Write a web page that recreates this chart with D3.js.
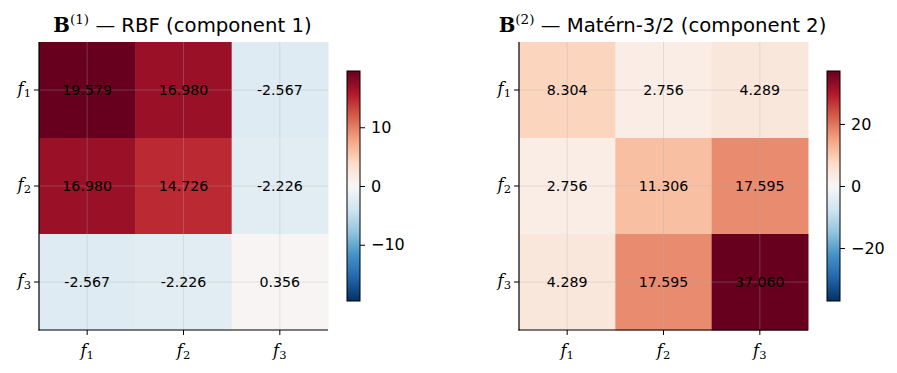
<!DOCTYPE html>
<html><head><meta charset="utf-8">
<script src="https://cdn.jsdelivr.net/npm/d3@7"></script>
<style>body{margin:0;background:#fff}svg{display:block}</style>
</head><body>
<svg id="chart" width="897" height="373"></svg>
<script>
const labels = ["1","2","3"];
const matrixB1 = [[19.579,16.980,-2.567],[16.980,14.726,-2.226],[-2.567,-2.226,0.356]];
const matrixB2 = [[8.304,2.756,4.289],[2.756,11.306,17.595],[4.289,17.595,37.060]];
const titleNames = ["RBF (component 1)","Matérn-3/2 (component 2)"];
const supers = ["(1)","(2)"];
const cbTicks1 = [-10,0,10];
const cbTicks2 = [-20,0,20];

const rdbu = ["#67001f","#b2182b","#d6604d","#f4a582","#fddbc7","#f7f7f7","#d1e5f0","#92c5de","#4393c3","#2166ac","#053061"];
const svg = d3.select("#chart");

const panels = [
  {m: matrixB1, x0: 39, x1: 328, cbx: 347, ticks: cbTicks1, title: titleNames[0], sup: supers[0]},
  {m: matrixB2, x0: 519, x1: 808, cbx: 827, ticks: cbTicks2, title: titleNames[1], sup: supers[1]}
];
const y0 = 42, y1 = 330;
const cbTop = 71, cbBot = 301, cbW = 13;

panels.forEach((p, pi) => {
  const vmax = d3.max(p.m.flat(), d => Math.abs(d));
  const vmin = -vmax;
  const dom = d3.range(11).map(i => vmax - i * (2 * vmax) / 10);
  const color = d3.scaleLinear().domain(dom).range(rdbu).interpolate(d3.interpolateRgb);
  const x = d3.scaleBand().domain(labels).range([p.x0, p.x1]).padding(0);
  const y = d3.scaleBand().domain(labels).range([y0, y1]).padding(0);
  const g = svg.append("g");
  const cells = [];
  p.m.forEach((row, i) => row.forEach((v, j) => cells.push({i, j, v})));
  g.selectAll("rect.cell").data(cells).join("rect")
    .attr("x", d => x(labels[d.j])).attr("y", d => y(labels[d.i]))
    .attr("width", x.bandwidth() + 0.5).attr("height", y.bandwidth() + 0.5)
    .attr("fill", d => color(d.v));
  labels.forEach(l => {
    const cx = x(l) + x.bandwidth() / 2, cy = y(l) + y.bandwidth() / 2;
    g.append("line").attr("x1", cx).attr("x2", cx).attr("y1", y0).attr("y2", y1)
      .attr("stroke", "#b0b0b0").attr("stroke-opacity", 0.3).attr("stroke-width", 1);
    g.append("line").attr("x1", p.x0).attr("x2", p.x1).attr("y1", cy).attr("y2", cy)
      .attr("stroke", "#b0b0b0").attr("stroke-opacity", 0.3).attr("stroke-width", 1);
  });
  g.selectAll("text.val").data(cells).join("text")
    .attr("x", d => x(labels[d.j]) + x.bandwidth() / 2)
    .attr("y", d => y(labels[d.i]) + y.bandwidth() / 2)
    .attr("text-anchor", "middle").attr("dominant-baseline", "central")
    .attr("font-family", "DejaVu Sans").attr("font-size", 14.2).attr("fill", "#000")
    .text(d => d.v.toFixed(3));
  g.append("line").attr("x1", p.x0).attr("x2", p.x0).attr("y1", y0).attr("y2", y1 + 0.6)
    .attr("stroke", "#000").attr("stroke-width", 1.2);
  g.append("line").attr("x1", p.x0 - 0.6).attr("x2", p.x1).attr("y1", y1).attr("y2", y1)
    .attr("stroke", "#000").attr("stroke-width", 1.2);
  labels.forEach(l => {
    const cx = x(l) + x.bandwidth() / 2, cy = y(l) + y.bandwidth() / 2;
    g.append("line").attr("x1", cx).attr("x2", cx).attr("y1", y1).attr("y2", y1 + 5)
      .attr("stroke", "#000").attr("stroke-width", 1);
    g.append("line").attr("x1", p.x0 - 5).attr("x2", p.x0).attr("y1", cy).attr("y2", cy)
      .attr("stroke", "#000").attr("stroke-width", 1);
    const tx = g.append("text").attr("x", cx).attr("y", y1 + 26).attr("text-anchor", "middle")
      .attr("font-family", "DejaVu Serif").attr("font-size", 16.5);
    tx.append("tspan").attr("font-style", "italic").text("f");
    tx.append("tspan").attr("font-size", 11.5).attr("dy", 3).text(l);
    const ty = g.append("text").attr("x", p.x0 - 8).attr("y", cy + 4).attr("text-anchor", "end")
      .attr("font-family", "DejaVu Serif").attr("font-size", 16.5);
    ty.append("tspan").attr("font-style", "italic").text("f");
    ty.append("tspan").attr("font-size", 11.5).attr("dy", 3).text(l);
  });
  const t = svg.append("text").attr("x", (p.x0 + p.x1) / 2 - 1).attr("y", 32).attr("text-anchor", "middle")
    .attr("font-family", "DejaVu Sans").attr("font-size", 19.7).attr("fill", "#000");
  t.append("tspan").attr("font-family", "DejaVu Serif").attr("font-weight", "bold").text("B");
  t.append("tspan").attr("font-family", "DejaVu Serif").attr("font-size", 13.5).attr("dy", -8).text(p.sup);
  t.append("tspan").attr("dy", 8).text(" — " + p.title);
  const cs = d3.scaleLinear().domain([vmin, vmax]).range([cbBot, cbTop]);
  const gradId = "grad" + pi;
  const grad = svg.append("defs").append("linearGradient").attr("id", gradId)
    .attr("x1", 0).attr("x2", 0).attr("y1", 1).attr("y2", 0);
  d3.range(0, 1.0001, 0.05).forEach(s => {
    grad.append("stop").attr("offset", s).attr("stop-color", color(vmin + s * (vmax - vmin)));
  });
  svg.append("rect").attr("x", p.cbx).attr("y", cbTop).attr("width", cbW).attr("height", cbBot - cbTop)
    .attr("fill", `url(#${gradId})`).attr("stroke", "#000").attr("stroke-width", 1);
  const axis = d3.axisRight(cs).tickValues(p.ticks).tickSize(5).tickPadding(6)
    .tickFormat(d => d < 0 ? "\u2212" + Math.abs(d) : String(d));
  const ag = svg.append("g").attr("transform", `translate(${p.cbx + cbW},0)`).call(axis);
  ag.select(".domain").remove();
  ag.selectAll("text").attr("font-family", "DejaVu Sans").attr("font-size", 16).attr("fill", "#000");
  ag.selectAll("line").attr("stroke", "#000");
});
</script>
</body></html>
